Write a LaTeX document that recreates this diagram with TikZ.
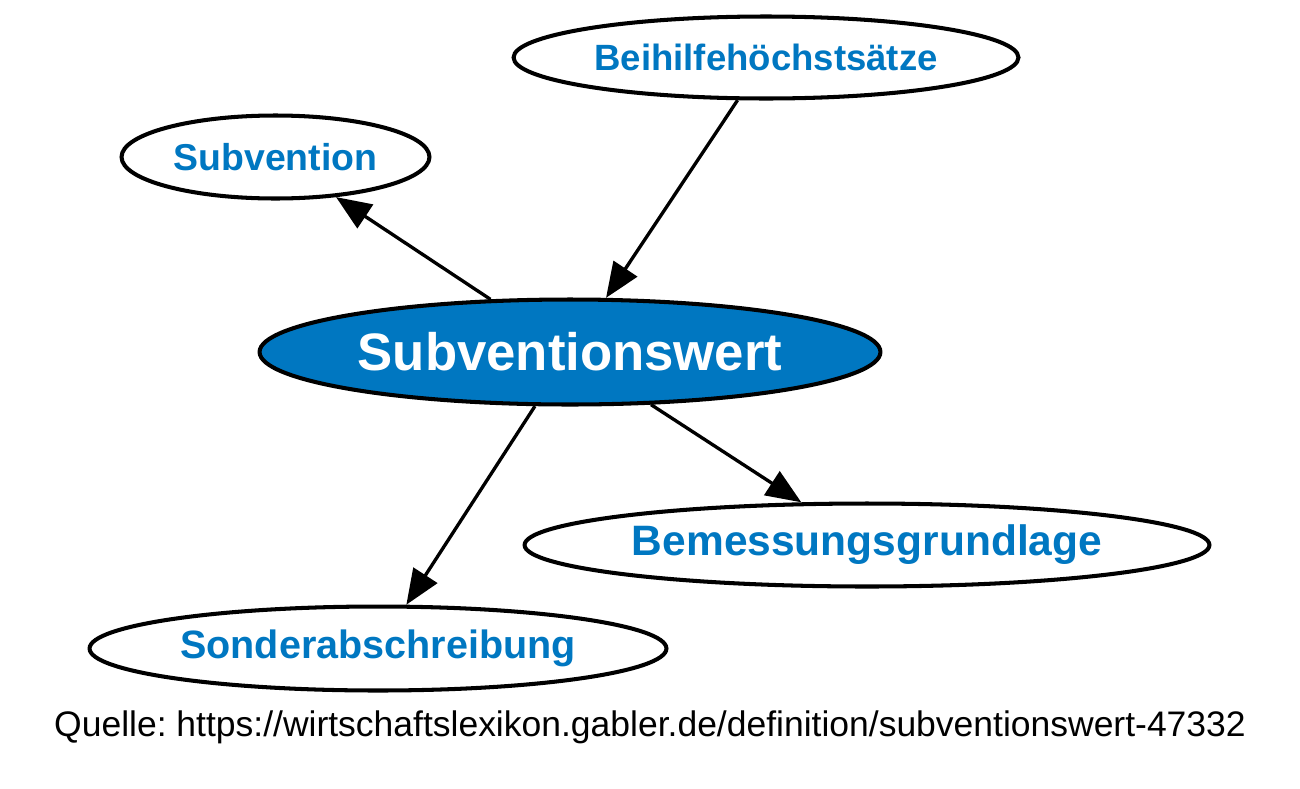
\documentclass[tikz,border=0pt]{standalone}
\usepackage{fontspec}
\setmainfont{Liberation Sans}
\usetikzlibrary{shapes.geometric,arrows.meta}
\definecolor{gablerblau}{RGB}{0,119,193}
\frenchspacing

\begin{document}
\begin{tikzpicture}[x=0.02cm,y=-0.02cm,
    begriff/.style={ellipse,draw=black,line width=2.3pt,inner sep=0pt,
      text=gablerblau,font=\bfseries},
    hauptbegriff/.style={begriff,fill=gablerblau,text=white},
    pfeil/.style={line width=1.9pt,-{Triangle[length=20pt,width=16pt]}}]
  %%%%% START %%%%%
  \useasboundingbox (0,0) rectangle (1300,788);

  \node[hauptbegriff,minimum width=12.42cm,minimum height=2.1cm,
    font=\bfseries\fontsize{30}{34}\selectfont] (wert) at (570,352) {Subventionswert};

  \node[begriff,minimum width=10.1cm,minimum height=1.64cm,
    font=\bfseries\fontsize{20.8}{24}\selectfont] (beihilfe) at (766,57.5) {Beihilfehöchstsätze};
  \node[begriff,minimum width=6.16cm,minimum height=1.66cm,
    font=\bfseries\fontsize{21.3}{24}\selectfont] (subvention) at (275.5,157) {Subvention};
  \node[begriff,minimum width=13.7cm,minimum height=1.66cm,
    font=\bfseries\fontsize{24.2}{28}\selectfont] (bemessung) at (867,545) {Bemessungsgrundlage};
  \node[begriff,minimum width=11.54cm,minimum height=1.68cm,
    font=\bfseries\fontsize{22.5}{26}\selectfont] (sonder) at (378,648.5) {Sonderabschreibung};

  \draw[pfeil] (beihilfe) -- (wert);
  \draw[pfeil] (wert) -- (subvention);
  \draw[pfeil] (wert) -- (bemessung);
  \draw[pfeil] (wert) -- (sonder);

  \node[font=\fontsize{20.2}{24}\selectfont] (quelle) at (650,727)
    {Quelle: https://wirtschaftslexikon.gabler.de/definition/subventionswert-47332};
  %%%%% END %%%%%
\end{tikzpicture}
\end{document}
